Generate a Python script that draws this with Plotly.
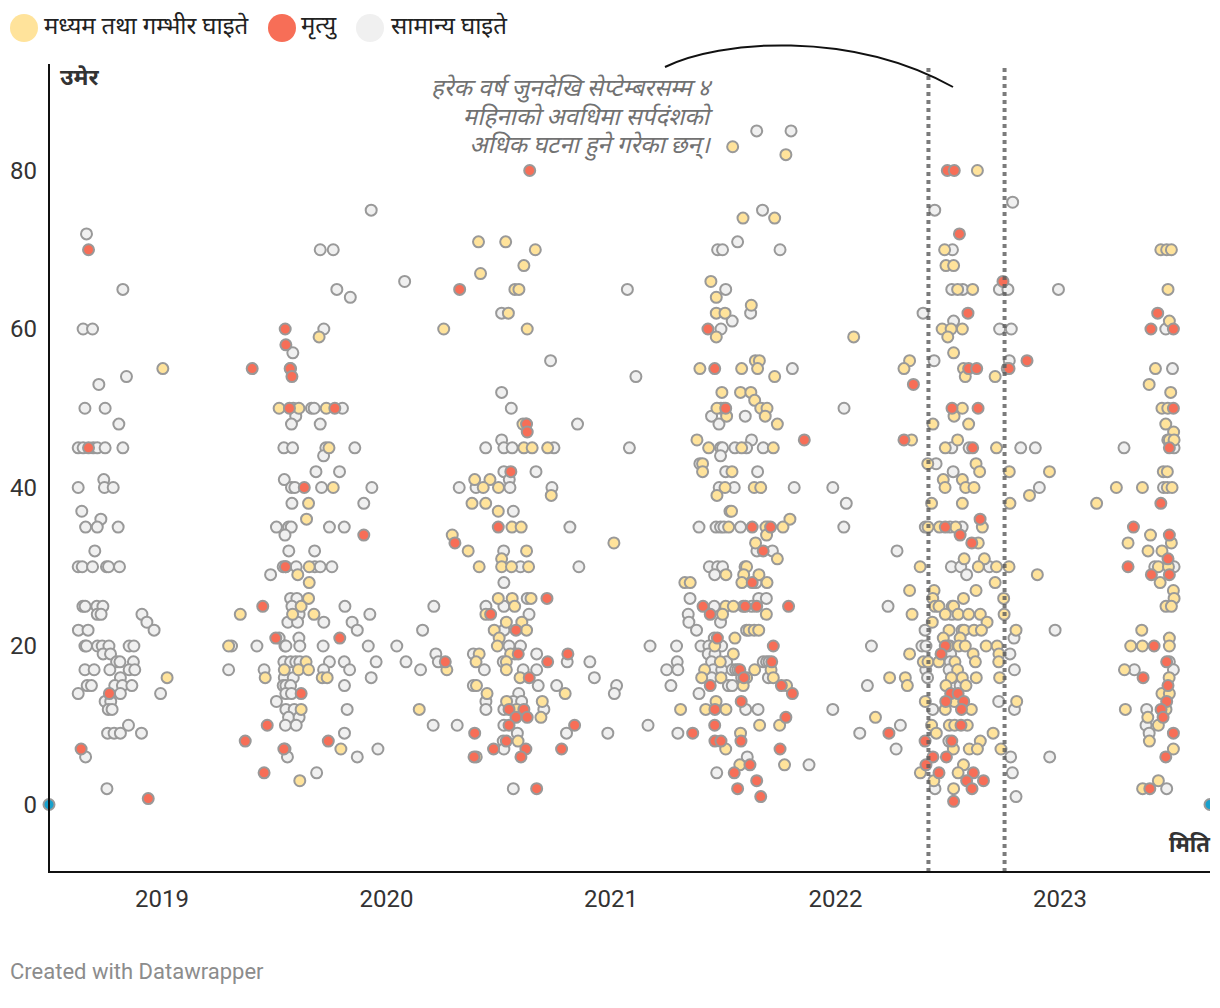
import plotly.graph_objects as go

# (age, [decimal dates])
MINOR = [
 (85,[2021.649,2021.802]),(76,[2022.789]),(75,[2019.932,2021.675,2022.442]),(72,[2018.664]),(71,[2021.564]),
 (70,[2019.705,2019.763,2021.475,2021.497,2021.753,2022.521]),(66,[2020.081]),
 (65,[2018.826,2019.779,2021.073,2021.511,2022.518,2022.567,2022.730,2022.768,2022.993]),(64,[2019.839]),
 (62,[2020.513,2021.622,2022.390]),(61,[2021.540,2022.526]),
 (60,[2018.649,2018.691,2019.721,2021.490,2022.731,2022.783,2023.471]),(57,[2019.583]),
 (56,[2020.731,2022.439,2022.774]),(55,[2019.573,2021.808,2022.765,2023.501]),(54,[2018.842,2021.111]),(53,[2018.719]),
 (52,[2020.513]),(50,[2018.657,2018.747,2019.585,2019.666,2019.678,2019.804,2020.556,2021.490,2021.503,2022.038]),
 (49,[2019.596,2021.448,2021.598]),(48,[2018.808,2019.577,2019.705,2020.621,2020.851,2021.481]),
 (46,[2020.513,2021.626,2023.480]),
 (45,[2018.627,2018.649,2018.694,2018.712,2018.747,2018.826,2019.543,2019.582,2019.730,2019.859,2020.442,2020.523,2020.560,2020.746,2021.082,2021.488,2021.497,2021.552,2021.604,2021.678,2022.518,2022.595,2022.825,2022.890,2023.285,2023.508]),
 (44,[2019.720,2021.488]),(43,[2021.396,2022.448]),(42,[2019.686,2019.791,2020.523,2020.666,2021.511,2021.653,2022.524]),
 (41,[2018.741,2019.545,2020.547]),
 (40,[2018.627,2018.744,2018.783,2019.577,2019.592,2019.711,2019.935,2020.324,2020.399,2020.550,2020.737,2021.482,2021.549,2021.816,2021.988,2022.908,2023.461]),
 (38,[2019.579,2019.899,2022.048]),(37,[2018.643,2020.565,2021.530]),(36,[2018.728]),
 (35,[2018.660,2018.712,2018.805,2019.510,2019.564,2019.576,2019.746,2019.812,2020.817,2021.392,2021.468,2021.488,2021.503,2021.577,2021.700,2022.037,2022.400,2022.510,2022.564]),
 (34,[2019.548]),
 (32,[2018.701,2019.565,2019.680,2020.522,2021.650,2021.719,2022.274]),
 (30,[2018.627,2018.645,2018.691,2018.753,2018.762,2018.811,2019.540,2019.552,2019.598,2019.681,2019.705,2019.757,2020.597,2020.857,2021.438,2021.475,2021.497,2021.597,2022.516,2022.558,2022.685,2023.422,2023.508]),
 (29,[2019.484,2021.462,2022.584]),(28,[2020.523,2021.646]),
 (26,[2019.573,2019.601,2020.627,2021.352,2021.658,2021.692]),
 (25,[2018.648,2018.658,2018.710,2018.737,2019.579,2019.815,2020.211,2020.443,2020.523,2021.460,2021.589,2021.627,2022.234,2022.520]),
 (24,[2018.712,2018.729,2018.911,2019.611,2019.926,2020.635,2021.344,2022.518]),
 (23,[2018.933,2019.561,2019.604,2019.721,2019.847,2021.347,2021.488]),
 (22,[2018.628,2018.671,2018.965,2019.870,2020.161,2020.523,2021.381,2021.604,2022.399,2022.564,2022.978]),
 (21,[2019.522,2019.610,2021.460,2022.795]),
 (20,[2018.657,2018.664,2018.713,2018.734,2018.764,2018.854,2018.875,2019.310,2019.423,2019.548,2019.552,2019.614,2019.718,2019.919,2020.046,2020.546,2020.597,2021.174,2021.292,2021.401,2021.436,2021.493,2022.160,2022.385,2022.403,2022.510]),
 (19,[2018.738,2018.771,2020.220,2020.387,2020.572,2020.669,2021.433,2021.463,2022.513,2022.777]),
 (18,[2018.798,2018.813,2018.873,2019.543,2019.573,2019.596,2019.614,2019.746,2019.812,2019.954,2020.087,2020.231,2020.520,2020.805,2020.906,2021.295,2021.448,2021.515,2021.678,2021.693,2021.704,2022.510,2023.487]),
 (17,[2018.657,2018.698,2018.768,2018.854,2018.879,2019.297,2019.455,2019.720,2019.836,2020.152,2020.436,2020.609,2020.669,2021.248,2021.298,2021.456,2021.493,2021.540,2021.555,2021.565,2022.402,2022.506,2022.797,2023.331,2023.505]),
 (16,[2018.815,2019.545,2019.585,2019.932,2020.926,2021.448,2021.582,2021.701,2022.410]),
 (15,[2018.667,2018.686,2018.790,2018.824,2018.866,2019.540,2019.552,2019.573,2019.813,2020.387,2020.676,2020.758,2021.025,2021.267,2021.523,2021.540,2022.142,2022.555]),
 (14,[2018.627,2018.815,2018.994,2019.552,2019.577,2020.589,2021.015,2021.392]),
 (13,[2018.747,2018.772,2019.510,2020.443,2020.565,2020.602,2022.727]),
 (12,[2018.761,2018.778,2019.552,2019.589,2019.825,2020.443,2020.523,2020.701,2021.600,2021.655,2021.988,2022.433,2022.797,2023.386]),
 (11,[2019.564,2019.611]),
 (10,[2018.851,2019.550,2019.598,2020.208,2020.315,2020.523,2021.165,2022.289,2023.383]),
 (9,[2018.758,2018.787,2018.815,2018.909,2019.813,2020.583,2020.802,2020.986,2021.298,2022.108,2023.397]),
 (8,[2020.520,2022.505]),(7,[2019.548,2019.962,2020.523,2022.270]),
 (6,[2018.660,2019.559,2019.870,2021.607,2022.780,2022.954]),(5,[2021.882]),
 (4,[2019.689,2021.471,2022.788]),(2,[2018.755,2020.565,2022.443,2023.475]),(1,[2022.804]),
]
SEVERE = [
 (83,[2021.542]),(82,[2021.779]),(80,[2022.632]),(74,[2021.588,2021.729]),(71,[2020.410,2020.531]),
 (70,[2020.663,2022.486,2023.449,2023.475,2023.496]),(68,[2020.612,2022.492,2022.526]),(67,[2020.419]),(66,[2021.445]),
 (65,[2020.572,2020.590,2022.544,2022.611,2023.481]),(64,[2021.469]),(63,[2021.625]),(62,[2020.543,2021.469,2021.508]),
 (61,[2023.487]),(60,[2020.255,2020.627,2022.475,2022.515,2022.565]),(59,[2019.700,2021.469,2022.081,2022.500]),
 (57,[2022.526]),(56,[2021.643,2021.661,2022.330]),(55,[2019.004,2021.396,2021.582,2021.653,2022.305,2022.570,2023.425]),
 (54,[2021.729,2022.578,2022.711]),(53,[2023.397]),(52,[2021.494,2021.577,2021.623,2023.493]),(51,[2021.640]),
 (50,[2019.522,2019.610,2019.732,2021.472,2021.667,2021.695,2022.565,2023.454,2023.480]),
 (49,[2021.515,2021.687,2022.528]),(48,[2020.608,2021.741,2022.434,2022.593,2023.471]),(47,[2023.506]),
 (46,[2021.383,2022.339,2022.544,2023.487,2023.508]),
 (45,[2019.744,2020.612,2020.649,2020.718,2021.435,2021.582,2021.723,2022.489,2022.717]),
 (43,[2021.408,2022.411,2022.626]),(42,[2021.408,2021.539,2022.642,2022.774,2022.953,2023.460,2023.478]),
 (41,[2020.393,2020.461,2022.480,2022.565]),
 (40,[2019.763,2020.431,2020.499,2021.508,2021.638,2021.667,2022.488,2022.580,2022.617,2023.251,2023.367,2023.478,2023.499]),
 (39,[2020.734,2021.472,2022.864]),(38,[2019.653,2020.381,2020.442,2022.428,2022.565,2022.777,2023.163]),
 (37,[2020.498,2021.537]),(36,[2019.644,2021.797]),
 (35,[2020.559,2020.600,2021.524,2021.690,2021.766,2022.412,2022.463,2022.535,2022.654]),
 (34,[2020.293,2021.693,2023.403]),(33,[2021.013,2021.644,2022.636,2023.303,2023.496]),
 (32,[2020.364,2020.624,2023.392,2023.454]),(31,[2020.513,2021.741,2022.573,2022.663]),
 (30,[2019.656,2020.413,2020.513,2020.557,2020.633,2021.604,2022.377,2022.636,2022.717,2022.773,2023.438,2023.483]),
 (29,[2019.605,2021.512,2021.591,2021.659,2022.899]),(28,[2019.656,2021.329,2021.353,2021.583,2021.695,2022.711,2023.446]),
 (27,[2022.330,2022.439,2022.626,2023.505]),(26,[2019.653,2020.498,2020.560,2020.644,2022.433,2022.570,2022.749,2023.508]),
 (25,[2019.620,2020.571,2021.511,2021.545,2022.443,2022.461,2022.526,2023.472,2023.496]),
 (24,[2019.349,2019.582,2019.677,2020.443,2021.497,2021.692,2022.341,2022.489,2022.546,2022.593,2022.645,2022.751]),
 (23,[2020.534,2020.603,2022.431,2022.675]),(22,[2020.480,2020.624,2021.615,2021.638,2021.658,2022.506,2022.573,2022.617,2022.650,2022.804,2023.364]),
 (21,[2020.502,2021.552,2022.480,2022.555,2023.487]),
 (20,[2019.297,2020.494,2021.462,2022.500,2022.549,2022.578,2022.671,2022.720,2023.315,2023.367,2023.487]),
 (19,[2020.413,2020.553,2021.545,2022.330,2022.613,2022.728]),
 (18,[2019.642,2020.399,2020.534,2021.487,2022.391,2022.412,2022.460,2022.532,2022.623,2022.727]),
 (17,[2019.545,2019.608,2019.653,2020.269,2020.534,2021.417,2021.640,2021.713,2022.544,2023.287]),
 (16,[2019.023,2019.460,2019.714,2019.736,2020.595,2021.404,2021.490,2021.604,2021.723,2022.241,2022.311,2022.516,2022.565,2022.627,2022.731,2023.486]),
 (15,[2020.401,2021.589,2021.782,2022.320,2022.492,2022.581]),(14,[2020.448,2020.796,2023.454,2023.487]),
 (13,[2020.535,2020.694,2021.468,2022.400,2022.530,2022.807]),
 (12,[2019.620,2020.146,2020.580,2021.310,2021.422,2021.512,2022.489,2022.605,2023.291,2023.472]),
 (11,[2020.688,2022.178,2023.391]),
 (10,[2021.662,2021.751,2022.428,2022.507,2022.531,2022.587,2023.438]),
 (9,[2021.577,2022.449,2022.702]),(8,[2020.586,2022.645,2023.398]),
 (7,[2019.797,2021.511,2022.525,2022.596,2022.632,2022.737,2023.505]),(6,[2020.400]),
 (5,[2021.574,2021.773,2022.570]),(4,[2022.378,2022.546]),(3,[2019.614,2022.438,2023.438]),
 (2,[2022.526,2023.368]),
]
DEATH = [
 (80,[2020.638,2022.498,2022.529]),(72,[2022.552]),(70,[2018.673]),(66,[2022.746]),(65,[2020.326]),
 (62,[2022.590,2023.435]),(60,[2019.549,2021.432,2023.405,2023.505]),(58,[2019.552]),(56,[2022.853]),
 (55,[2019.402,2019.571,2021.462,2022.593,2022.629,2022.773]),(54,[2019.579]),(53,[2022.347]),
 (50,[2019.568,2019.770,2021.511,2022.519,2022.635,2023.505]),(48,[2020.624]),(47,[2020.627]),
 (46,[2021.861,2022.305]),(45,[2018.673,2022.611,2023.487]),(42,[2020.554]),(40,[2019.634]),(38,[2023.449]),
 (36,[2022.644]),(35,[2020.498,2021.629,2021.711,2022.489,2023.327]),(34,[2019.899,2022.555,2023.487]),
 (33,[2020.305,2022.607]),(32,[2021.678]),(31,[2023.481]),(30,[2019.550,2023.303]),(29,[2023.407,2023.487]),
 (28,[2021.629]),(26,[2020.715]),(25,[2019.449,2021.410,2021.598,2021.649,2021.791]),(24,[2020.464,2021.442]),
 (22,[2020.577]),(21,[2019.507,2019.792,2021.474]),(20,[2021.723,2022.489,2023.419]),(19,[2020.587,2020.808,2022.470]),
 (18,[2020.262,2020.718,2021.716,2023.475]),(17,[2021.574]),(16,[2020.636,2021.592,2023.370]),
 (15,[2021.442,2021.759,2023.481]),(14,[2018.766,2019.620,2021.808,2022.513,2022.546]),(13,[2021.580,2022.491,2022.571,2023.475]),
 (12,[2020.546,2020.612,2021.463,2022.561,2023.450]),(11,[2020.577,2020.627,2021.779,2023.459]),
 (10,[2019.469,2020.546,2020.838,2021.462,2022.559]),(9,[2020.393,2021.364,2022.238,2023.505]),
 (8,[2019.371,2019.741,2020.534,2021.463,2021.490,2021.579,2022.399,2022.518]),
 (7,[2018.640,2019.543,2020.477,2020.621,2020.780,2021.753]),(6,[2020.390,2020.599,2022.434,2022.494,2023.471]),
 (5,[2021.619,2022.403]),(4,[2019.455,2021.549,2022.461,2022.614]),(3,[2021.649,2022.584,2022.659]),
 (2,[2020.669,2021.564,2022.608,2023.400]),(1,[2021.667]),(0.74,[2018.939]),(0.4,[2022.526]),
]
DOMAIN_DATES = [2018.497, 2023.668]
DOMAIN_AGES = [0, 0]
YEAR_TICKS = [2019, 2020, 2021, 2022, 2023]
AGE_TICKS = [0, 20, 40, 60, 80]
WINDOW = [2022.414, 2022.753]   # June to end of September 2022
LEGEND = ["मध्यम तथा गम्भीर घाइते", "मृत्यु", "सामान्य घाइते"]
NOTE = ["हरेक वर्ष जुनदेखि सेप्टेम्बरसम्म ४", "महिनाको अवधिमा सर्पदंशको", "अधिक घटना हुने गरेका छन्।"]

FONT = "Roboto, 'Noto Sans', 'Noto Sans Devanagari', sans-serif"
YELLOW, RED, GRAY, EDGE = "#ffe39b", "#f76e57", "#f0f0f0", "#999999"
W, H, L, R, T, B = 1220, 1008, 49, 1210, 64, 872
px = lambda x: (x - L) / (R - L)
py = lambda y: (B - y) / (B - T)


def flat(rows):
    xs, ys = [], []
    for age, dates in rows:
        for d in dates:
            xs.append(d)
            ys.append(age)
    return xs, ys


fig = go.Figure()
for rows, col in ((MINOR, GRAY), (SEVERE, YELLOW), (DEATH, RED)):
    xs, ys = flat(rows)
    fig.add_trace(go.Scatter(x=xs, y=ys, mode="markers", cliponaxis=False, hoverinfo="skip",
                             marker=dict(size=11, color=col, line=dict(color=EDGE, width=2))))
fig.add_trace(go.Scatter(x=DOMAIN_DATES[:1], y=DOMAIN_AGES[:1], mode="markers", cliponaxis=False, hoverinfo="skip",
                         marker=dict(size=11, color="#18a1cd", line=dict(color=EDGE, width=2))))
fig.add_trace(go.Scatter(x=DOMAIN_DATES[1:], y=DOMAIN_AGES[1:], mode="markers", cliponaxis=True, hoverinfo="skip",
                         marker=dict(size=11, color="#18a1cd", line=dict(color=EDGE, width=2))))

shapes = []
for d in WINDOW:
    shapes.append(dict(type="line", xref="x", yref="paper", x0=d, x1=d, y0=0, y1=1, layer="above",
                       line=dict(color="rgba(90,90,90,0.8)", width=4, dash="4px,4px")))
# axis lines
shapes.append(dict(type="line", xref="paper", yref="paper", x0=px(49), x1=px(49), y0=0, y1=1, layer="above",
                   line=dict(color="#111111", width=2)))
shapes.append(dict(type="line", xref="paper", yref="paper", x0=px(48), x1=1, y0=py(872), y1=py(872), layer="above",
                   line=dict(color="#111111", width=2)))
shapes.append(dict(type="path", xref="paper", yref="paper", layer="above",
                   path=f"M {px(665)} {py(67)} C {px(720)} {py(40)}, {px(850)} {py(30)}, {px(953)} {py(87)}",
                   line=dict(color="#111111", width=2)))
for cx, col in ((24, YELLOW), (282, RED), (370, GRAY)):
    shapes.append(dict(type="circle", xref="paper", yref="paper", x0=px(cx - 14), x1=px(cx + 14),
                       y0=py(28 + 14), y1=py(28 - 14), fillcolor=col, line=dict(width=0)))

ann = []
for x, t in zip((42, 299, 389), LEGEND):
    ann.append(dict(x=px(x), y=py(26), xref="paper", yref="paper", text=t, showarrow=False, xanchor="left",
                    yanchor="middle", font=dict(size=24, color="#222222", family=FONT)))
ann.append(dict(x=px(58), y=py(77), xref="paper", yref="paper", text="<b>उमेर</b>", showarrow=False, xanchor="left",
                yanchor="middle", font=dict(size=23, color="#333333", family=FONT)))
ann.append(dict(x=px(1212), y=py(844), xref="paper", yref="paper", text="<b>मिति</b>", showarrow=False, xanchor="right",
                yanchor="middle", font=dict(size=22, color="#333333", family=FONT)))
for yy, line in zip((88, 117, 146), NOTE):
    ann.append(dict(x=px(712), y=py(yy), xref="paper", yref="paper", text=line, showarrow=False,
                    xanchor="right", yanchor="middle", align="right",
                    font=dict(size=24, color="#727272", family=FONT)))
ann.append(dict(x=px(8), y=py(971), xref="paper", yref="paper", text="Created with Datawrapper", showarrow=False,
                xanchor="left", yanchor="middle", font=dict(size=22, color="#8c8c8c", family=FONT)))

fig.update_layout(
    width=W, height=H, autosize=False, showlegend=False, plot_bgcolor="white", paper_bgcolor="white",
    margin=dict(l=L, r=W - R, t=T, b=H - B), font=dict(family=FONT, size=24, color="#333333"),
    shapes=shapes, annotations=ann,
    xaxis=dict(range=[2018.497, 2023.668], tickvals=YEAR_TICKS, ticktext=[str(y) for y in YEAR_TICKS], showgrid=False,
               zeroline=False, showline=False, ticks="", ticklabelstandoff=10),
    yaxis=dict(range=[-8.52, 93.44], tickvals=AGE_TICKS, showgrid=False, zeroline=False, showline=False,
               ticks="", ticklabelstandoff=11),
)
# The installed Devanagari face has no italic, so the slant of the note is applied to its text elements.
slant = """
document.body.style.margin='0';document.body.style.overflow='hidden';
document.querySelectorAll('.annotation-text').forEach(function(t){
  if(t.style.fill.replace(/\\s/g,'')==='rgb(114,114,114)'){
    var x=t.getAttribute('x')||0,y=t.getAttribute('y')||0;
    var b=t.getBBox();var cy=b.y+b.height*0.75;
    t.setAttribute('transform','translate('+x+' '+cy+') skewX(-14) translate('+(-x)+' '+(-cy)+')');
  }
});
"""
fig.write_html("out.html", config={"displayModeBar": False}, post_script=slant)
